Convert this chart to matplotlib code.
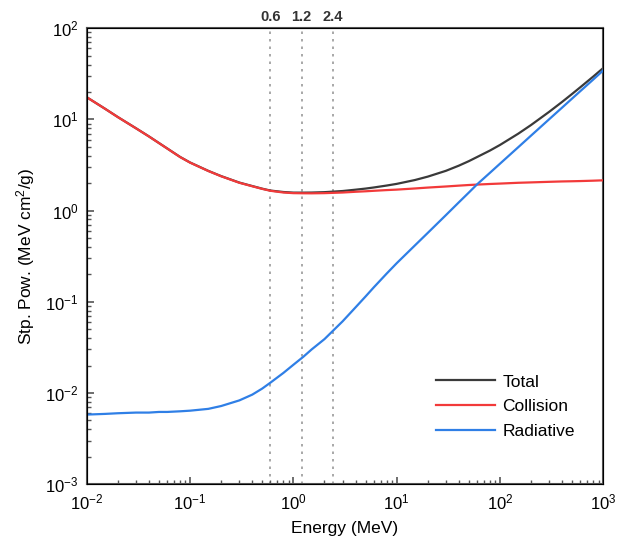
import matplotlib
matplotlib.use("Agg")
import matplotlib.pyplot as plt
from matplotlib.ticker import LogLocator, NullFormatter, NullLocator

plt.rcParams['font.family'] = ['Liberation Sans', 'DejaVu Sans']
plt.rcParams['mathtext.fontset'] = 'custom'
plt.rcParams['mathtext.rm'] = 'Liberation Sans'
plt.rcParams['mathtext.it'] = 'Liberation Sans:italic'
plt.rcParams['mathtext.bf'] = 'Liberation Sans:bold'

energy = [0.01, 0.015, 0.02, 0.03, 0.04, 0.05, 0.06, 0.08, 0.1, 0.15, 0.2, 0.3, 0.4,
          0.5, 0.6, 0.8, 1.0, 1.25, 1.5, 2, 3, 4, 5, 6, 8, 10, 15, 20, 30, 40, 50,
          60, 80, 100, 150, 200, 300, 400, 500, 600, 800, 1000]
collision = [17.5, 13.1, 10.6, 7.98, 6.5, 5.5, 4.8, 3.87, 3.36, 2.72, 2.38, 2.02, 1.85,
             1.73, 1.65, 1.58, 1.555, 1.55, 1.548, 1.555, 1.58, 1.61, 1.63, 1.65, 1.68,
             1.70, 1.75, 1.79, 1.84, 1.88, 1.91, 1.93, 1.96, 1.98, 2.02, 2.04, 2.07,
             2.09, 2.10, 2.11, 2.13, 2.15]
radiative = [0.0058, 0.0059, 0.0060, 0.0061, 0.0061, 0.0062, 0.0062, 0.0063, 0.0064,
             0.0067, 0.0072, 0.0083, 0.0096, 0.0112, 0.0130, 0.0166, 0.0204, 0.025,
             0.030, 0.039, 0.0612, 0.0870, 0.1145, 0.1440, 0.204, 0.265, 0.415, 0.570,
             0.894, 1.234, 1.58, 1.94, 2.60, 3.27, 4.95, 6.65, 10.07, 13.5, 16.97,
             20.45, 27.4, 34.5]
total = [17.51, 13.11, 10.61, 7.99, 6.51, 5.51, 4.81, 3.88, 3.37, 2.73, 2.39, 2.03, 1.86,
         1.74, 1.66, 1.60, 1.576, 1.575, 1.578, 1.594, 1.641, 1.697, 1.745, 1.794, 1.884,
         1.965, 2.165, 2.36, 2.734, 3.114, 3.49, 3.87, 4.56, 5.25, 6.97, 8.69, 12.14,
         15.59, 19.07, 22.56, 29.53, 36.65]
marker_energies = [0.6, 1.2, 2.4]
marker_labels = ['0.6', '1.2', '2.4']

fig = plt.figure(figsize=(6.2, 5.54), dpi=100)
ax = fig.add_axes([0.140, 0.126, 0.833, 0.823])

for e in marker_energies:
    ax.axvline(e, color='#999999', linestyle=(0, (1.5, 3)), linewidth=1.2, zorder=1)

ax.plot(energy, total, color='#3a3a3a', linewidth=1.6, label='Total', zorder=2)
ax.plot(energy, collision, color='#f23a3a', linewidth=1.6, label='Collision', zorder=3)
ax.plot(energy, radiative, color='#2f7fe6', linewidth=1.6, label='Radiative', zorder=4)

ax.set_xscale('log')
ax.set_yscale('log')
ax.set_xlim(1e-2, 1e3)
ax.set_ylim(1e-3, 1e2)

for s in ax.spines.values():
    s.set_color('#555555')
    s.set_linewidth(1.5)

ax.set_xlabel('Energy (MeV)', fontsize=12.5, labelpad=6)
ax.set_ylabel('Stp. Pow. (MeV cm$^2$/g)', fontsize=12.5, labelpad=6)

top = ax.twiny()
top.set_xscale('log')
top.set_xlim(ax.get_xlim())
top.set_xticks(marker_energies)
top.set_xticklabels(marker_labels, fontsize=10.5, fontweight='bold', color='#333333')
top.xaxis.set_minor_locator(NullLocator())
top.tick_params(axis='x', length=0, pad=3)

for axis in (ax.xaxis, ax.yaxis):
    axis.set_major_locator(LogLocator(base=10, numticks=20))
    axis.set_minor_locator(LogLocator(base=10, subs=range(2, 10), numticks=20))
    axis.set_minor_formatter(NullFormatter())

ax.tick_params(which='both', direction='in', top=False, right=False,
               color='#555555', labelsize=12, pad=6)
ax.tick_params(which='major', length=5, width=1.2)
ax.tick_params(which='minor', length=3, width=1.0)

leg = ax.legend(loc='lower right', bbox_to_anchor=(0.975, 0.065), frameon=False,
                fontsize=12.5, handlelength=3.4, handletextpad=0.4, labelspacing=0.55)

fig.savefig('out.png', dpi=100)
